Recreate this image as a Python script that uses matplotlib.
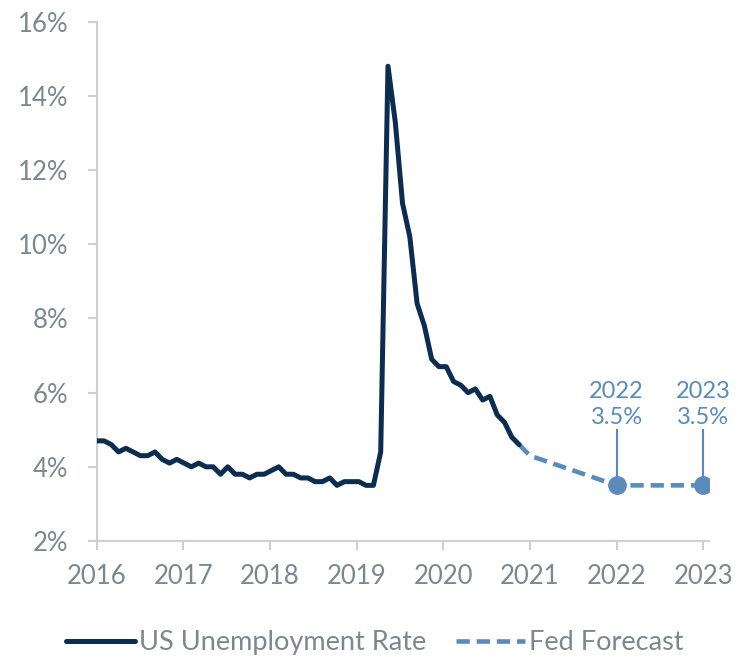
import numpy as np
import matplotlib
matplotlib.use("Agg")
import matplotlib.pyplot as plt


####### Data #######

# monthly unemployment rate, first point sits on the 2016 tick
unemployment = [4.7, 4.7, 4.6, 4.4, 4.5, 4.4, 4.3, 4.3, 4.4, 4.2, 4.1, 4.2,
                4.1, 4.0, 4.1, 4.0, 4.0, 3.8, 4.0, 3.8, 3.8, 3.7, 3.8, 3.8,
                3.9, 4.0, 3.8, 3.8, 3.7, 3.7, 3.6, 3.6, 3.7, 3.5, 3.6, 3.6,
                3.6, 3.5, 3.5, 4.4, 14.8, 13.3, 11.1, 10.2, 8.4, 7.8, 6.9, 6.7,
                6.7, 6.3, 6.2, 6.0, 6.1, 5.8, 5.9, 5.4, 5.2, 4.8, 4.6]

forecast_years = [2021, 2022, 2023]
forecast_values = [4.3, 3.5, 3.5]
labelled_years = [2022, 2023]
labelled_values = [3.5, 3.5]

year_ticks = [2016, 2017, 2018, 2019, 2020, 2021, 2022, 2023]
pct_ticks = [2, 4, 6, 8, 10, 12, 14, 16]

##################################################

navy = "#0c2d4f"
blue = "#5a8bbb"
grey_text = "#7d878d"
grey_axis = "#cfcfcf"

plt.rcParams['font.family'] = ['Lato', 'DejaVu Sans']

# months on the chart run a touch wider than 1/12 of a year
x_actual = 2016 + np.arange(len(unemployment)) / 11.9

fig = plt.figure(figsize=(7.4, 6.57), dpi=100)
ax = fig.add_axes([96.7 / 740, 116 / 657, 611.8 / 740, 519.3 / 657])

ax.plot(x_actual, unemployment, color=navy, lw=3.6, solid_joinstyle='round',
        solid_capstyle='round', zorder=3, label="US Unemployment Rate")

fx = [x_actual[-1]] + forecast_years
fy = [unemployment[-1]] + forecast_values
ax.plot(fx, fy, color=blue, lw=3.3, dashes=(2.9, 1.5), dash_capstyle='butt',
        zorder=2, label="Fed Forecast")

ax.plot(labelled_years, labelled_values, 'o', color=blue, ms=12.5, zorder=4)
for yr, val in zip(labelled_years, labelled_values):
    ax.plot([yr, yr], [val, 4.98], color=blue, lw=1.5, zorder=4)
    ax.text(yr, 5.04, "%d\n%.1f%%" % (yr, val), color=blue, fontsize=17,
            ha='center', va='bottom', linespacing=1.3)

ax.set_xlim(2016, 2023.06)
ax.set_ylim(2, 16)
ax.set_xticks(year_ticks)
ax.set_xticklabels([str(y) for y in year_ticks])
ax.set_yticks(pct_ticks)
ax.set_yticklabels(["%d%%" % p for p in pct_ticks])

for s in ["top", "right"]:
    ax.spines[s].set_visible(False)
for s in ["left", "bottom"]:
    ax.spines[s].set_color(grey_axis)
    ax.spines[s].set_linewidth(1.5)

ax.tick_params(axis='both', colors=grey_axis, length=6.5, width=1.5,
               labelcolor=grey_text, labelsize=18.5)
ax.tick_params(axis='x', pad=10)
ax.tick_params(axis='y', pad=14)

ax.legend(loc='upper center', bbox_to_anchor=(0.455, -0.125), ncol=2,
          frameon=False, fontsize=19.5, labelcolor=grey_text,
          handlelength=2.55, handletextpad=0.15, columnspacing=1.1)

plt.savefig("out.png", dpi=100)
